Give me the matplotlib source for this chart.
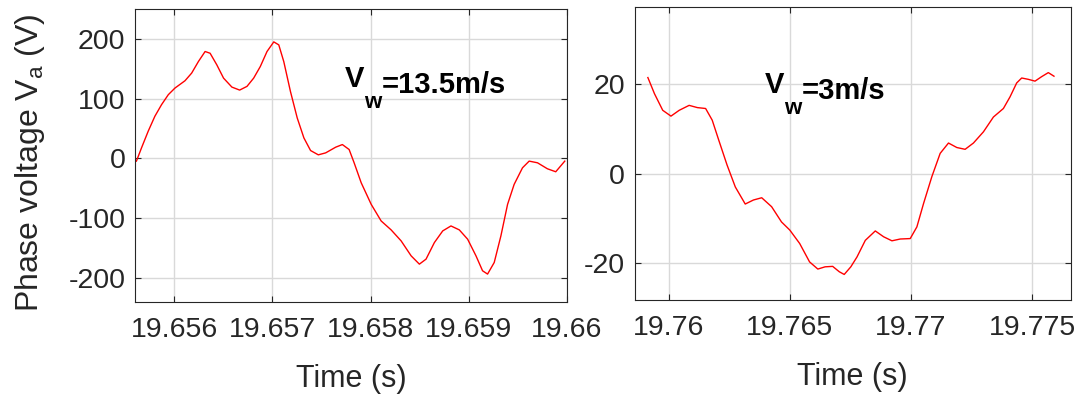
import matplotlib.pyplot as plt

plt.rcParams['font.family'] = ['Liberation Sans', 'DejaVu Sans']
plt.rcParams['axes.unicode_minus'] = False

# left panel, Vw = 13.5 m/s
t_hi = [19.655614, 19.655666, 19.655734, 19.655802, 19.655870, 19.655939, 19.656007,
        19.656109, 19.656177, 19.656246, 19.656314, 19.656365, 19.656433, 19.656502,
        19.656587, 19.656666, 19.656741, 19.656809, 19.656877, 19.656945, 19.657014,
        19.657065, 19.657116, 19.657184, 19.657253, 19.657321, 19.657389, 19.657468,
        19.657543, 19.657645, 19.657713, 19.657782, 19.657833, 19.657905, 19.658007,
        19.658108, 19.658210, 19.658312, 19.658414, 19.658498, 19.658566, 19.658651,
        19.658736, 19.658820, 19.658905, 19.658990, 19.659075, 19.659142, 19.659193,
        19.659261, 19.659329, 19.659397, 19.659464, 19.659549, 19.659617, 19.659702,
        19.659803, 19.659888, 19.659980]
v_hi = [-4.4, 17.8, 45.6, 70.6, 90, 106.7, 117.8,
        130, 142.8, 162.2, 178.9, 176, 156.7, 134.4,
        119.4, 114.4, 120.6, 134.4, 153.9, 178.9, 195,
        190, 162, 112, 67.8, 34.4, 13.3, 6.1,
        9.4, 18.9, 23.3, 15, -7.2, -40.6, -76.7,
        -104.4, -119.4, -137.8, -162.8, -176.7, -168.3, -140.6,
        -121.1, -112.8, -119.4, -135, -162.8, -187.8, -193.3,
        -173.9, -129.4, -76.7, -43.3, -15.6, -4.4, -7.2,
        -17.2, -22.2, -4.4]

# right panel, Vw = 3 m/s
t_lo = [19.759142, 19.759414, 19.759755, 19.760095, 19.760436, 19.760845, 19.761185,
        19.761526, 19.761798, 19.762071, 19.762411, 19.762752, 19.763161, 19.763501,
        19.763842, 19.764251, 19.764659, 19.765000, 19.765409, 19.765817, 19.766158,
        19.766458, 19.766771, 19.767044, 19.767248, 19.767520, 19.767775, 19.768118,
        19.768530, 19.768874, 19.769217, 19.769560, 19.769973, 19.770247, 19.770522,
        19.770865, 19.771209, 19.771552, 19.771896, 19.772239, 19.772582, 19.772995,
        19.773407, 19.773819, 19.774093, 19.774368, 19.774574, 19.774849, 19.775124,
        19.775398, 19.775673, 19.775907]
v_lo = [21.4, 17.8, 14.1, 12.8, 14.1, 15.2, 14.7,
        14.5, 11.9, 7.4, 1.9, -3.0, -6.8, -5.9,
        -5.4, -7.4, -10.8, -12.6, -15.6, -19.7, -21.3,
        -20.8, -20.7, -21.9, -22.5, -20.8, -18.6, -14.9,
        -12.8, -14.1, -15.0, -14.6, -14.5, -11.9, -6.7,
        -0.7, 4.5, 6.8, 5.8, 5.4, 6.8, 9.3,
        12.6, 14.5, 17.1, 20.2, 21.3, 21.0, 20.6,
        21.6, 22.5, 21.7]

xt_hi = [19.656, 19.657, 19.658, 19.659, 19.66]
xt_lo = [19.76, 19.765, 19.77, 19.775]
yt_hi = [-200, -100, 0, 100, 200]
yt_lo = [-20, 0, 20]


def speed_label(ax, x, y, value):
    # V with a large, deeply dropped subscript w, like the MATLAB original
    t1 = ax.text(x, y, 'V', transform=ax.transAxes, fontsize=21,
                 fontweight='bold', va='baseline')
    t2 = ax.annotate('w', xy=(1, 0), xycoords=t1, xytext=(0, -11),
                     textcoords='offset points', fontsize=16,
                     fontweight='bold', va='baseline')
    w = t2.get_window_extent(ax.figure.canvas.get_renderer()).width * 72 / 100
    ax.annotate('=' + value, xy=(1, 0), xycoords=t1, xytext=(w, 0),
                textcoords='offset points', fontsize=21, fontweight='bold',
                va='baseline')


fig = plt.figure(figsize=(10.83, 3.98), dpi=100)
ax1 = fig.add_axes([0.1247, 0.2412, 0.3986, 0.7362])
ax2 = fig.add_axes([0.5861, 0.2462, 0.4026, 0.737])

for ax in (ax1, ax2):
    ax.grid(True, color='#d9d9d9', linewidth=1.0)
    ax.set_axisbelow(True)
    ax.tick_params(direction='in', top=True, right=True, length=4, labelsize=20.5,
                   colors='#262626')
    ax.tick_params(axis='x', pad=11)
    ax.tick_params(axis='y', pad=7)
    for s in ax.spines.values():
        s.set_color('#262626')
    ax.set_xlabel('Time (s)', fontsize=22, color='#262626', labelpad=15)

ax1.plot(t_hi, v_hi, color='red', linewidth=1.0)
ax1.set_xlim(19.6556, 19.66)
ax1.set_ylim(-240, 250)
ax1.set_xticks(xt_hi)
ax1.set_xticklabels(['19.656', '19.657', '19.658', '19.659', '19.66'])
ax1.set_yticks(yt_hi)
ax1.set_ylabel('Phase voltage V$_\\mathregular{a}$ (V)', fontsize=23, color='#262626')
ax1.yaxis.set_label_coords(-0.205, 0.474)

ax2.plot(t_lo, v_lo, color='red', linewidth=1.0)
ax2.set_xlim(19.7586, 19.7766)
ax2.set_ylim(-28.2, 37.2)
ax2.set_xticks(xt_lo)
ax2.set_xticklabels(['19.76', '19.765', '19.77', '19.775'])
ax2.set_yticks(yt_lo)

speed_label(ax1, 0.486, 0.735, '13.5m/s')
speed_label(ax2, 0.299, 0.705, '3m/s')

fig.savefig('out.png', dpi=100)
